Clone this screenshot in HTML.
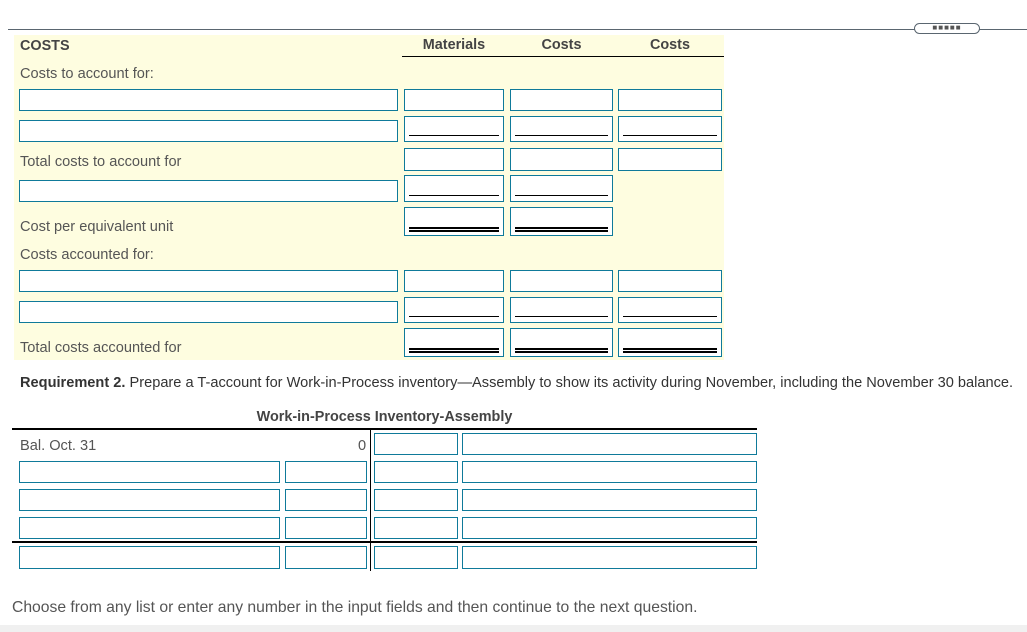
<!DOCTYPE html><html><head><style>
body{margin:0;width:1027px;height:632px;background:#fff;position:relative;overflow:hidden;font-family:"Liberation Sans",sans-serif;color:#333}
div{position:absolute;box-sizing:border-box}
.b{border:1px solid #0f7a9a;background:#fff}
.t{font-size:14.6px;white-space:nowrap;color:#555}
.h{font-size:14.4px;font-weight:bold;color:#444}
.u{border-bottom:1px solid #000;left:4px;right:4px;height:1px}
.d{border-top:2px solid #000;border-bottom:2px solid #000;height:5px;left:4px;right:4px}
</style></head><body>
<div style="left:8px;top:29px;width:1019px;height:1px;background:#5a6670"></div>
<div style="left:914px;top:23px;width:66px;height:11px;border:1px solid #5a6670;border-radius:6px;background:#fff;font-size:8px;line-height:8px;text-align:center;color:#555;letter-spacing:1px">■■■■■</div>
<div style="left:14px;top:35px;width:710px;height:325px;background:#fefde0"></div>
<div class="h" style="left:20px;top:38px">COSTS</div>
<div class="h" style="left:404px;top:37px;width:100px;text-align:center">Materials</div>
<div class="h" style="left:510px;top:37px;width:103px;text-align:center">Costs</div>
<div class="h" style="left:618px;top:37px;width:104px;text-align:center">Costs</div>
<div style="left:402px;top:56px;width:322px;height:1px;background:#000"></div>
<div class="t" style="left:20px;top:66px">Costs to account for:</div>
<div class="t" style="left:20px;top:154px">Total costs to account for</div>
<div class="t" style="left:20px;top:219px">Cost per equivalent unit</div>
<div class="t" style="left:20px;top:247px">Costs accounted for:</div>
<div class="t" style="left:20px;top:340px">Total costs accounted for</div>

<div class="b" style="left:19px;top:89px;width:379px;height:22px"></div>
<div class="b" style="left:404px;top:89px;width:100px;height:22px"></div>
<div class="b" style="left:510px;top:89px;width:103px;height:22px"></div>
<div class="b" style="left:618px;top:89px;width:104px;height:22px"></div>

<div class="b" style="left:19px;top:120px;width:379px;height:22px"></div>
<div class="b" style="left:404px;top:116px;width:100px;height:26px"><div class="u" style="top:18px"></div></div>
<div class="b" style="left:510px;top:116px;width:103px;height:26px"><div class="u" style="top:18px"></div></div>
<div class="b" style="left:618px;top:116px;width:104px;height:26px"><div class="u" style="top:18px"></div></div>

<div class="b" style="left:404px;top:148px;width:100px;height:23px"></div>
<div class="b" style="left:510px;top:148px;width:103px;height:23px"></div>
<div class="b" style="left:618px;top:148px;width:104px;height:23px"></div>

<div class="b" style="left:19px;top:180px;width:379px;height:22px"></div>
<div class="b" style="left:404px;top:175px;width:100px;height:27px"><div class="u" style="top:19px"></div></div>
<div class="b" style="left:510px;top:175px;width:103px;height:27px"><div class="u" style="top:19px"></div></div>

<div class="b" style="left:404px;top:207px;width:100px;height:29px"><div class="d" style="top:19px"></div></div>
<div class="b" style="left:510px;top:207px;width:103px;height:29px"><div class="d" style="top:19px"></div></div>

<div class="b" style="left:19px;top:270px;width:379px;height:22px"></div>
<div class="b" style="left:404px;top:270px;width:100px;height:22px"></div>
<div class="b" style="left:510px;top:270px;width:103px;height:22px"></div>
<div class="b" style="left:618px;top:270px;width:104px;height:22px"></div>

<div class="b" style="left:19px;top:301px;width:379px;height:22px"></div>
<div class="b" style="left:404px;top:297px;width:100px;height:26px"><div class="u" style="top:18px"></div></div>
<div class="b" style="left:510px;top:297px;width:103px;height:26px"><div class="u" style="top:18px"></div></div>
<div class="b" style="left:618px;top:297px;width:104px;height:26px"><div class="u" style="top:18px"></div></div>

<div class="b" style="left:404px;top:328px;width:100px;height:29px"><div class="d" style="top:19px"></div></div>
<div class="b" style="left:510px;top:328px;width:103px;height:29px"><div class="d" style="top:19px"></div></div>
<div class="b" style="left:618px;top:328px;width:104px;height:29px"><div class="d" style="top:19px"></div></div>

<div class="t" style="left:20px;top:375px;color:#333"><b>Requirement 2.</b> Prepare a T-account for Work-in-Process inventory—Assembly to show its activity during November, including the November 30 balance.</div>
<div class="h" style="left:12px;top:409px;width:745px;text-align:center">Work-in-Process Inventory-Assembly</div>
<div style="left:12px;top:428px;width:745px;height:2px;background:#000"></div>
<div style="left:370px;top:428px;width:1px;height:143px;background:#000"></div>
<div style="left:12px;top:541px;width:745px;height:2px;background:#000"></div>
<div class="t" style="left:20px;top:438px">Bal. Oct. 31</div>
<div class="t" style="left:358px;top:438px">0</div>
<div class="b" style="left:374px;top:433px;width:84px;height:22px"></div>
<div class="b" style="left:462px;top:433px;width:295px;height:22px"></div>

<div class="b" style="left:19px;top:461px;width:261px;height:22px"></div><div class="b" style="left:285px;top:461px;width:82px;height:22px"></div><div class="b" style="left:374px;top:461px;width:84px;height:22px"></div><div class="b" style="left:462px;top:461px;width:295px;height:22px"></div>
<div class="b" style="left:19px;top:489px;width:261px;height:22px"></div><div class="b" style="left:285px;top:489px;width:82px;height:22px"></div><div class="b" style="left:374px;top:489px;width:84px;height:22px"></div><div class="b" style="left:462px;top:489px;width:295px;height:22px"></div>
<div class="b" style="left:19px;top:517px;width:261px;height:22px"></div><div class="b" style="left:285px;top:517px;width:82px;height:22px"></div><div class="b" style="left:374px;top:517px;width:84px;height:22px"></div><div class="b" style="left:462px;top:517px;width:295px;height:22px"></div>
<div class="b" style="left:19px;top:546px;width:261px;height:23px"></div><div class="b" style="left:285px;top:546px;width:82px;height:23px"></div><div class="b" style="left:374px;top:546px;width:84px;height:23px"></div><div class="b" style="left:462px;top:546px;width:295px;height:23px"></div>

<div class="t" style="left:12px;top:599px;font-size:15.7px">Choose from any list or enter any number in the input fields and then continue to the next question.</div>
<div style="left:0;top:625px;width:1027px;height:7px;background:#f0f0f0"></div>
</body></html>
